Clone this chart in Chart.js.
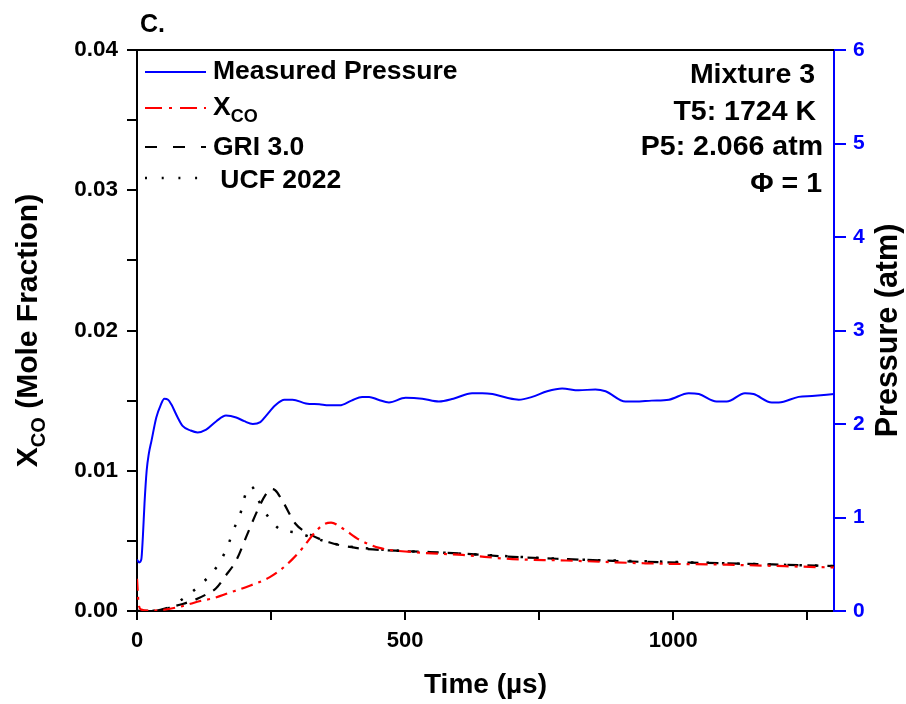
<!DOCTYPE html>
<html>
<head>
<meta charset="utf-8">
<script src="https://cdn.jsdelivr.net/npm/chart.js@4.4.0/dist/chart.umd.min.js"></script>
<style>
	html, body { margin: 0; padding: 0; background: #fff; }
	#wrap { width: 906px; height: 704px; }
</style>
</head>
<body>
<div id="wrap"><canvas id="myChart" width="906" height="704"></canvas></div>
<script>
'use strict';

// measured pressure trace (atm) vs time (µs)
const pressureTime = [0, 4, 8, 11, 14, 18, 22, 27, 36, 44, 51, 58, 64, 75, 85, 100, 113, 129, 148, 166,
	185, 200, 216, 230, 241, 258, 275, 290, 315, 340, 358, 378, 400, 420, 433, 450, 470, 501, 532, 563,
	590, 625, 644, 663, 690, 712, 737, 765, 793, 824, 855, 874, 911, 929, 960, 992, 1029, 1048, 1081, 1100,
	1134, 1150, 1184, 1197, 1234, 1259, 1300];
const pressureAtm = [0.55, 0.52, 0.55, 0.80, 1.15, 1.50, 1.68, 1.82, 2.07, 2.20, 2.27, 2.26, 2.21, 2.08, 1.98, 1.93, 1.91, 1.94, 2.03, 2.09,
	2.07, 2.03, 2.00, 2.02, 2.09, 2.20, 2.26, 2.26, 2.22, 2.21, 2.20, 2.20, 2.25, 2.29, 2.29, 2.26, 2.23, 2.28, 2.27, 2.24,
	2.27, 2.33, 2.33, 2.32, 2.28, 2.26, 2.29, 2.35, 2.38, 2.36, 2.37, 2.35, 2.24, 2.24, 2.25, 2.26, 2.33, 2.32, 2.24, 2.24,
	2.33, 2.32, 2.23, 2.23, 2.29, 2.30, 2.32];

// measured CO mole fraction
const xcoTime = [0, 3, 8, 20, 40, 79, 122, 141, 172, 203, 247, 270, 290, 309, 334, 350, 362, 383, 414, 452,
	514, 607, 700, 800, 948, 1100, 1300];
const xcoValues = [0.0023, 0.0005, 0.0001, 0.00003, 0.00005, 0.0003, 0.00075, 0.0009, 0.0013, 0.0017, 0.0024, 0.0030, 0.0037, 0.0045, 0.0057, 0.0062, 0.0063, 0.0059, 0.0051, 0.0045,
	0.0042, 0.0040, 0.0037, 0.0036, 0.0034, 0.0033, 0.0031];

// GRI 3.0 model
const griTime = [0, 36, 60, 85, 110, 130, 147, 165, 185, 206, 225, 240, 250, 258, 272, 296, 321, 358, 408, 483,
	607, 682, 800, 948, 1100, 1300];
const griValues = [0, 0.00003, 0.00026, 0.0005, 0.00083, 0.0012, 0.0016, 0.0025, 0.0036, 0.0055, 0.0072, 0.0083, 0.0087, 0.0086, 0.0078, 0.0062, 0.0055, 0.0049, 0.0045, 0.0043,
	0.0041, 0.0039, 0.0037, 0.0035, 0.0034, 0.0032];

// UCF 2022 model
const ucfTime = [0, 48, 79, 104, 122, 144, 159, 171, 180, 191, 203, 212, 218, 224, 247, 268, 296, 330, 380, 450,
	600, 800, 1000, 1300];
const ucfValues = [0, 0.00005, 0.0007, 0.0014, 0.0020, 0.0029, 0.0038, 0.0048, 0.0058, 0.0067, 0.0084, 0.0089, 0.0087, 0.0081, 0.0066, 0.0058, 0.0056, 0.0052, 0.0047, 0.0044,
	0.0041, 0.0037, 0.0035, 0.0032];

// axis ticks
const xTickValues = [0, 250, 500, 750, 1000, 1250];
const xLabelValues = [0, 500, 1000];
const yTickValues = [0, 0.005, 0.01, 0.015, 0.02, 0.025, 0.03, 0.035, 0.04];
const yLabelValues = [0, 0.01, 0.02, 0.03, 0.04];
const y1TickValues = [0, 1, 2, 3, 4, 5, 6];

const annotationLines = ['Mixture 3', 'T5: 1724 K', 'P5: 2.066 atm', 'Φ = 1'];

const FONT = '"Liberation Sans", Arial, Helvetica, sans-serif';
const BLUE = '#0000ff';
const RED = '#ff0000';

function toPoints(xs, ys) {
	return xs.map((x, i) => ({ x, y: ys[i] }));
}

function font(size) {
	return 'bold ' + size + 'px ' + FONT;
}

// draws text pieces in a row, pieces flagged sub are smaller and lowered
function drawRich(ctx, x, y, parts, size) {
	let cx = x;
	parts.forEach((p) => {
		const s = p.sub ? Math.round(size * 0.68) : size;
		ctx.font = font(s);
		ctx.fillText(p.text, cx, p.sub ? y + size * 0.27 : y);
		cx += ctx.measureText(p.text).width;
	});
}

function richWidth(ctx, parts, size) {
	return parts.reduce((w, p) => {
		ctx.font = font(p.sub ? Math.round(size * 0.68) : size);
		return w + ctx.measureText(p.text).width;
	}, 0);
}

function drawSample(ctx, x1, x2, y, color, dash, width) {
	ctx.save();
	ctx.strokeStyle = color;
	ctx.lineWidth = width;
	ctx.setLineDash(dash);
	ctx.beginPath();
	ctx.moveTo(x1, y);
	ctx.lineTo(x2, y);
	ctx.stroke();
	ctx.restore();
}

const overlayPlugin = {
	id: 'overlay',
	afterDraw(chart) {
		const ctx = chart.ctx;
		const area = chart.chartArea;
		ctx.save();

		// top frame line
		ctx.strokeStyle = '#000';
		ctx.lineWidth = 2;
		ctx.beginPath();
		ctx.moveTo(area.left - 1, area.top);
		ctx.lineTo(area.right, area.top);
		ctx.stroke();

		ctx.fillStyle = '#000';
		ctx.textBaseline = 'alphabetic';

		// panel letter
		ctx.textAlign = 'left';
		ctx.font = font(25);
		ctx.fillText('C.', 140, 32);

		// legend
		const lx1 = area.left + 8;
		const lx2 = area.left + 69;
		drawSample(ctx, lx1, lx2, 72, BLUE, [], 2);
		drawSample(ctx, lx1, lx2, 108, RED, [17, 7, 3, 8], 2);
		drawSample(ctx, lx1, lx2, 147, '#000', [12, 16], 2);
		drawSample(ctx, lx1, lx2, 178, '#000', [2, 14.7], 2.5);
		ctx.fillStyle = '#000';
		drawRich(ctx, 213, 79, [{ text: 'Measured Pressure' }], 26.5);
		drawRich(ctx, 213, 115, [{ text: 'X' }, { text: 'CO', sub: true }], 26.5);
		drawRich(ctx, 213, 155, [{ text: 'GRI 3.0' }], 26.5);
		drawRich(ctx, 213, 188, [{ text: ' UCF 2022' }], 26.5);

		// condition annotations
		ctx.textAlign = 'right';
		ctx.font = font(28.5);
		const rights = [815, 816, 823, 822];
		const bases = [83, 120, 155, 192];
		annotationLines.forEach((t, i) => ctx.fillText(t, rights[i], bases[i]));

		// x axis title
		ctx.textAlign = 'center';
		ctx.font = font(28);
		ctx.fillText('Time (µs)', (area.left + area.right) / 2, 693);

		// left axis title
		const midY = (area.top + area.bottom) / 2;
		const leftParts = [{ text: 'X' }, { text: 'CO', sub: true }, { text: ' (Mole Fraction)' }];
		ctx.textAlign = 'left';
		ctx.save();
		ctx.translate(37, midY);
		ctx.rotate(-Math.PI / 2);
		drawRich(ctx, -richWidth(ctx, leftParts, 30) / 2, 0, leftParts, 30);
		ctx.restore();

		// right axis title
		ctx.save();
		ctx.translate(897, midY);
		ctx.rotate(-Math.PI / 2);
		ctx.textAlign = 'center';
		ctx.font = font(30.5);
		ctx.fillText('Pressure (atm)', 0, 0);
		ctx.restore();

		ctx.restore();
	},
};

const tickFont = (size) => ({ family: FONT, size, weight: 'bold' });
const setTicks = (values) => (scale) => {
	scale.ticks = values.map((value) => ({ value }));
};
const hasValue = (list, v) => list.some((t) => Math.abs(t - v) < 1e-9);

const ctx = document.getElementById('myChart').getContext('2d');
const myChart = new Chart(ctx, {
	type: 'line',
	data: {
		datasets: [
			{
				label: 'Measured Pressure',
				data: toPoints(pressureTime, pressureAtm),
				yAxisID: 'y1',
				borderColor: BLUE,
				borderWidth: 2,
				pointRadius: 0,
				cubicInterpolationMode: 'monotone',
			},
			{
				label: 'XCO',
				data: toPoints(xcoTime, xcoValues),
				yAxisID: 'y',
				borderColor: RED,
				borderWidth: 2.2,
				borderDash: [12, 6, 3, 6],
				pointRadius: 0,
				cubicInterpolationMode: 'monotone',
			},
			{
				label: 'GRI 3.0',
				data: toPoints(griTime, griValues),
				yAxisID: 'y',
				borderColor: '#000',
				borderWidth: 2.2,
				borderDash: [11, 9],
				pointRadius: 0,
				cubicInterpolationMode: 'monotone',
			},
			{
				label: 'UCF 2022',
				data: toPoints(ucfTime, ucfValues),
				yAxisID: 'y',
				borderColor: '#000',
				borderWidth: 2.5,
				borderDash: [2.5, 13],
				pointRadius: 0,
				cubicInterpolationMode: 'monotone',
			},
		],
	},
	options: {
		responsive: false,
		animation: false,
		devicePixelRatio: 1,
		layout: { padding: { top: 50, left: 0, right: 0, bottom: 0 } },
		plugins: {
			legend: { display: false },
			tooltip: { enabled: false },
		},
		scales: {
			x: {
				type: 'linear',
				position: 'bottom',
				min: 0,
				max: 1300,
				afterFit: (s) => { s.height = 93; },
				afterBuildTicks: setTicks(xTickValues),
				border: { color: '#000', width: 2 },
				grid: { drawOnChartArea: false, drawTicks: true, tickLength: 9, lineWidth: 2, tickWidth: 2, tickColor: '#000' },
				ticks: {
					autoSkip: false,
					maxRotation: 0,
					padding: 8,
					color: '#000',
					font: tickFont(22),
					callback: (v) => (hasValue(xLabelValues, v) ? String(v) : ''),
				},
			},
			y: {
				type: 'linear',
				position: 'left',
				min: 0,
				max: 0.04,
				afterFit: (s) => { s.width = 137; },
				afterBuildTicks: setTicks(yTickValues),
				border: { color: '#000', width: 2 },
				grid: { drawOnChartArea: false, drawTicks: true, tickLength: 10, lineWidth: 2, tickWidth: 2, tickColor: '#000' },
				ticks: {
					autoSkip: false,
					padding: 9,
					color: '#000',
					font: tickFont(22.5),
					callback: (v) => (hasValue(yLabelValues, v) ? v.toFixed(2) : ''),
				},
			},
			y1: {
				type: 'linear',
				position: 'right',
				min: 0,
				max: 6,
				afterFit: (s) => { s.width = 72; },
				afterBuildTicks: setTicks(y1TickValues),
				border: { color: BLUE, width: 2 },
				grid: { drawOnChartArea: false, drawTicks: true, tickLength: 12, lineWidth: 2, tickWidth: 2, tickColor: BLUE },
				ticks: {
					autoSkip: false,
					padding: 7,
					color: BLUE,
					font: tickFont(21),
				},
			},
		},
	},
	plugins: [overlayPlugin],
});
</script>
</body>
</html>
